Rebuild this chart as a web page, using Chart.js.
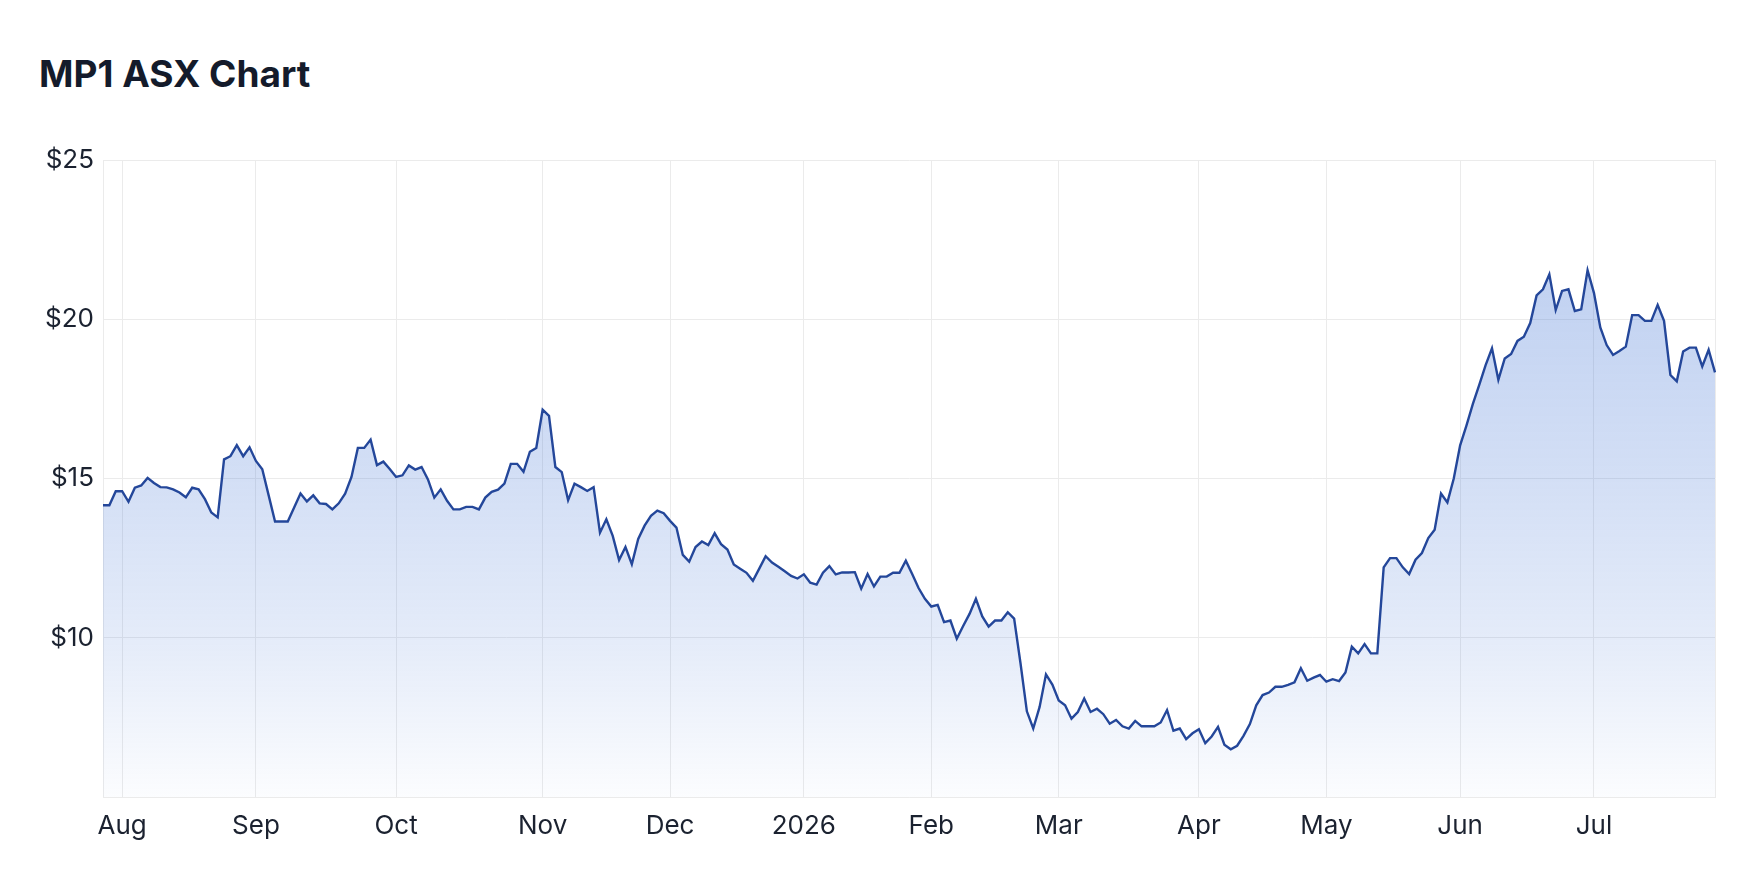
<!DOCTYPE html>
<html lang="en">
<head>
  <meta charset="UTF-8">
  <title>MP1 ASX Chart</title>
  <script src="https://cdn.jsdelivr.net/npm/chart.js@4.4.0/dist/chart.umd.min.js"></script>
  <style>
    html, body { margin: 0; padding: 0; background: #fff; }
    body { width: 1750px; height: 880px; position: relative; overflow: hidden; font-family: Inter, "Noto Sans", Arial, sans-serif; }
    h2 { position: absolute; left: 39px; top: 55px; margin: 0; font-size: 37px; line-height: 37px; font-weight: 700; color: #141b2b; }
    #chartBox { position: absolute; left: 0; top: 0; width: 1750px; height: 880px; }
  </style>
</head>
<body>
  <h2>MP1 ASX Chart</h2>
  <div id="chartBox"><canvas id="priceChart"></canvas></div>

  <script>
    // month tick labels, one per month block below
    const tickLabels = ['', 'Aug', 'Sep', 'Oct', 'Nov', 'Dec', '2026', 'Feb', 'Mar', 'Apr', 'May', 'Jun', 'Jul'];

    // daily closes, one array per month (trading days only)
    const jul25 = [14.16, 14.16, 14.6];
    const aug25 = [14.6, 14.27, 14.71, 14.78, 15.02, 14.86, 14.73, 14.72, 14.66, 14.56, 14.41,
                   14.71, 14.66, 14.35, 13.93, 13.78, 15.6, 15.7, 16.05, 15.7, 15.98];
    const sep25 = [15.55, 15.29, 14.47, 13.65, 13.65, 13.65, 14.09, 14.53, 14.28, 14.47, 14.22,
                   14.2, 14.03, 14.22, 14.52, 15.05, 15.96, 15.96, 16.22, 15.42, 15.53, 15.3];
    const oct25 = [15.05, 15.1, 15.41, 15.28, 15.36, 14.97, 14.4, 14.66, 14.3, 14.03, 14.03, 14.11,
                   14.11, 14.03, 14.4, 14.58, 14.65, 14.84, 15.46, 15.46, 15.21, 15.84, 15.96];
    const nov25 = [17.16, 16.97, 15.36, 15.2, 14.32, 14.84, 14.73, 14.61, 14.73, 13.3, 13.72,
                   13.2, 12.44, 12.85, 12.31, 13.1, 13.52, 13.83, 13.99, 13.91];
    const dec25 = [13.67, 13.46, 12.6, 12.39, 12.85, 13.02, 12.91, 13.28, 12.94, 12.77, 12.3,
                   12.17, 12.04, 11.79, 12.17, 12.56, 12.36, 12.23, 12.09, 11.94, 11.86];
    const jan26 = [11.99, 11.73, 11.67, 12.04, 12.25, 11.99, 12.05, 12.05, 12.06, 11.54, 12.0,
                   11.61, 11.92, 11.92, 12.04, 12.04, 12.42, 12.0, 11.56, 11.22];
    const feb26 = [10.98, 11.03, 10.49, 10.54, 9.97, 10.37, 10.75, 11.22, 10.67, 10.35, 10.54,
                   10.54, 10.8, 10.6, 9.2, 7.69, 7.15, 7.83, 8.85, 8.53];
    const mar26 = [8.03, 7.88, 7.46, 7.67, 8.09, 7.67, 7.77, 7.6, 7.3, 7.42, 7.22, 7.15, 7.39,
                   7.22, 7.22, 7.22, 7.34, 7.73, 7.08, 7.15, 6.82, 7.0];
    const apr26 = [7.13, 6.69, 6.9, 7.2, 6.64, 6.5, 6.61, 6.92, 7.29, 7.88, 8.2, 8.28, 8.46,
                   8.46, 8.52, 8.6, 9.04, 8.65, 8.75, 8.83];
    const may26 = [8.62, 8.7, 8.64, 8.91, 9.72, 9.51, 9.8, 9.51, 9.51, 12.21, 12.5, 12.5, 12.21,
                   12.0, 12.45, 12.66, 13.13, 13.39, 14.53, 14.25, 15.0];
    const jun26 = [16.04, 16.67, 17.34, 17.94, 18.56, 19.09, 18.1, 18.77, 18.91, 19.32, 19.45,
                   19.88, 20.75, 20.94, 21.41, 20.29, 20.89, 20.94, 20.26, 20.31, 21.54];
    const jul26 = [20.83, 19.74, 19.19, 18.88, 19.0, 19.14, 20.13, 20.13, 19.95, 19.95, 20.45,
                   19.95, 18.25, 18.05, 18.99, 19.11, 19.11, 18.52, 19.04, 18.33];

    const yTicks = [5, 10, 15, 20, 25];

    // flatten months into one category axis, month name on first day only
    const monthly = [jul25, aug25, sep25, oct25, nov25, dec25, jan26, feb26, mar26, apr26, may26, jun26, jul26];
    const labels = [];
    const prices = [];
    monthly.forEach((days, k) => {
      days.forEach((v, d) => {
        labels.push(d === 0 ? tickLabels[k] : '');
        prices.push(v);
      });
    });

    const gridColor = '#ebebeb';

    function fillGradient(ctx) {
      const area = ctx.chart.chartArea;
      if (!area) return 'rgba(65,116,213,0.2)';
      const g = ctx.chart.ctx.createLinearGradient(0, area.top, 0, area.bottom);
      g.addColorStop(0, 'rgba(65,116,213,0.38)');
      g.addColorStop(0.5, 'rgba(65,116,213,0.23)');
      g.addColorStop(0.75, 'rgba(65,116,213,0.14)');
      g.addColorStop(1, 'rgba(65,116,213,0.02)');
      return g;
    }

    Chart.defaults.font.family = 'Inter, "Noto Sans", Arial, sans-serif';
    Chart.defaults.font.size = 26;
    Chart.defaults.color = '#1b2230';

    new Chart(document.getElementById('priceChart'), {
      type: 'line',
      data: {
        labels,
        datasets: [{
          label: 'MP1',
          data: prices,
          borderColor: '#24479a',
          borderWidth: 2.4,
          backgroundColor: fillGradient,
          fill: 'start',
          pointRadius: 0,
          tension: 0
        }]
      },
      options: {
        responsive: true,
        maintainAspectRatio: false,
        animation: false,
        layout: { padding: { top: 160, right: 35, left: 0, bottom: 0 } },
        plugins: { legend: { display: false }, tooltip: { enabled: false } },
        scales: {
          x: {
            type: 'category',
            offset: false,
            afterFit: axis => { axis.height = 83; },
            border: { display: true, color: gridColor },
            grid: {
              drawTicks: false,
              color: c => (labels[c.index] || c.index === labels.length - 1) ? gridColor : 'rgba(0,0,0,0)'
            },
            ticks: { autoSkip: false, maxRotation: 0, minRotation: 0, padding: 14 }
          },
          y: {
            min: yTicks[0],
            max: yTicks[yTicks.length - 1],
            afterFit: axis => { axis.width = 103; },
            afterBuildTicks: axis => { axis.ticks = yTicks.map(v => ({ value: v })); },
            border: { display: true, color: gridColor },
            grid: { drawTicks: false, color: gridColor },
            ticks: { padding: 9, callback: v => v === yTicks[0] ? '' : '$' + v }
          }
        }
      }
    });
  </script>
</body>
</html>
